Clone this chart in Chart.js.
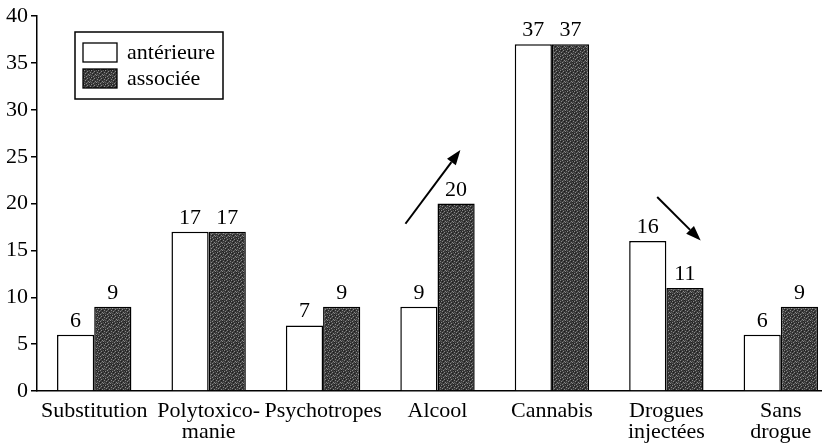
<!DOCTYPE html>
<html><head><meta charset="utf-8">
<script src="https://cdn.jsdelivr.net/npm/chart.js@4/dist/chart.umd.min.js"></script>
<style>html,body{margin:0;padding:0;overflow:hidden;background:#fff;width:822px;height:447px}
canvas{display:block}</style></head>
<body><canvas id="c" width="838" height="447"></canvas>
<script>
// ---- data ----
const categories = ['Substitution', ['Polytoxico-', 'manie'], 'Psychotropes', 'Alcool', 'Cannabis', ['Drogues', 'injectées'], ['Sans', 'drogue']];
const seriesNames = ['antérieure', 'associée'];
const anterieure = [6, 17, 7, 9, 37, 16, 6];
const associee = [9, 17, 9, 20, 37, 11, 9];
const yTickValues = [0, 5, 10, 15, 20, 25, 30, 35, 40];
// arrows in data units: [categoryIndex, value]
const arrowFrom = [[2.72, 17.85], [4.92, 20.7]];
const arrowTo = [[3.20, 25.72], [5.30, 16.06]];

// ---- stipple pattern for dark bars ----
function makePattern() {
  const p = document.createElement('canvas');
  p.width = 7; p.height = 7;
  const g = p.getContext('2d');
  g.fillStyle = '#383838';
  g.fillRect(0, 0, 7, 7);
  g.fillStyle = '#8a8a8a';
  [[0,0],[3,1],[6,2],[1,3],[4,4],[2,6],[5,5]].forEach(([x, y]) => g.fillRect(x, y, 1, 1));
  g.fillStyle = '#5e5e5e';
  [[2,2],[5,0],[0,5],[6,4],[3,5]].forEach(([x, y]) => g.fillRect(x, y, 1, 1));
  g.fillStyle = '#1e1e1e';
  [[1,1],[4,2],[2,4],[5,6],[6,0]].forEach(([x, y]) => g.fillRect(x, y, 1, 1));
  return document.getElementById('c').getContext('2d').createPattern(p, 'repeat');
}
const darkFill = makePattern();

const FAMILY = "'Liberation Serif', 'DejaVu Serif', serif";
const SIZE = 22;
Chart.defaults.font.family = FAMILY;
Chart.defaults.font.size = SIZE;
Chart.defaults.color = '#000';
const FONT = SIZE + "px " + FAMILY;

const valueLabels = {
  id: 'valueLabels',
  afterDatasetsDraw(chart) {
    const ctx = chart.ctx;
    ctx.save();
    ctx.font = FONT;
    ctx.fillStyle = '#000';
    ctx.textAlign = 'center';
    ctx.textBaseline = 'alphabetic';
    chart.data.datasets.forEach((ds, di) => {
      chart.getDatasetMeta(di).data.forEach((el, i) => {
        ctx.fillText(String(ds.data[i]), el.x, el.y - 8);
      });
    });
    ctx.restore();
  }
};

const arrowsPlugin = {
  id: 'arrows',
  afterDraw(chart) {
    const ctx = chart.ctx, xs = chart.scales.x, ys = chart.scales.y;
    const w = xs.getPixelForValue(1) - xs.getPixelForValue(0);
    const px = v => xs.getPixelForValue(0) + v * w;
    ctx.save();
    ctx.strokeStyle = '#000';
    ctx.fillStyle = '#000';
    ctx.lineWidth = 2;
    arrowFrom.forEach((f, k) => {
      const t = arrowTo[k];
      const x1 = px(f[0]), y1 = ys.getPixelForValue(f[1]);
      const x2 = px(t[0]), y2 = ys.getPixelForValue(t[1]);
      const a = Math.atan2(y2 - y1, x2 - x1);
      const L = 15, H = 5.5;
      const bx = x2 - L * Math.cos(a), by = y2 - L * Math.sin(a);
      ctx.beginPath();
      ctx.moveTo(x1, y1); ctx.lineTo(bx, by); ctx.stroke();
      ctx.beginPath();
      ctx.moveTo(x2, y2);
      ctx.lineTo(bx + H * Math.sin(a), by - H * Math.cos(a));
      ctx.lineTo(bx - H * Math.sin(a), by + H * Math.cos(a));
      ctx.closePath(); ctx.fill();
    });
    ctx.restore();
  }
};

const legendBox = {
  id: 'legendBox',
  afterDraw(chart) {
    const ctx = chart.ctx;
    ctx.save();
    ctx.lineWidth = 1.5;
    ctx.strokeStyle = '#000';
    ctx.fillStyle = '#fff';
    ctx.fillRect(75, 32, 148, 67);
    ctx.strokeRect(75, 32, 148, 67);
    ctx.font = FONT;
    ctx.textAlign = 'left';
    ctx.textBaseline = 'middle';
    chart.data.datasets.forEach((ds, i) => {
      const y = i === 0 ? 43 : 69;
      ctx.fillStyle = ds.backgroundColor;
      ctx.fillRect(83, y, 34, 19);
      ctx.lineWidth = 1.3;
      ctx.strokeRect(83, y, 34, 19);
      ctx.fillStyle = '#000';
      ctx.fillText(ds.label, 127, y + 10);
    });
    ctx.restore();
  }
};

new Chart(document.getElementById('c'), {
  type: 'bar',
  data: {
    labels: categories,
    datasets: [
      { label: seriesNames[0], data: anterieure, backgroundColor: '#ffffff', borderColor: '#000', borderWidth: 1.5 },
      { label: seriesNames[1], data: associee, backgroundColor: darkFill, borderColor: '#000', borderWidth: 1.5 }
    ]
  },
  options: {
    responsive: false,
    animation: false,
    devicePixelRatio: 1,
    layout: { padding: { top: 10, left: 0, right: 0, bottom: 0 } },
    plugins: { legend: { display: false }, tooltip: { enabled: false } },
    datasets: { bar: { categoryPercentage: 0.65, barPercentage: 1.0 } },
    scales: {
      x: {
        grid: { display: false, drawTicks: false },
        border: { display: true, color: '#000', width: 1.5 },
        ticks: { padding: 10, maxRotation: 0, autoSkip: false, font: { size: SIZE, lineHeight: 0.95 } },
        afterFit(s) { s.height = 56; }
      },
      y: {
        min: 0, max: 40,
        afterBuildTicks(s) { s.ticks = yTickValues.map(v => ({ value: v })); },
        grid: { drawOnChartArea: false, drawTicks: true, tickLength: 6, color: '#000', lineWidth: 1.5 },
        border: { display: true, color: '#000', width: 1.5 },
        ticks: { padding: 3, font: { size: SIZE } },
        afterFit(s) { s.width = 37; }
      }
    }
  },
  plugins: [valueLabels, arrowsPlugin, legendBox]
});
</script>
</body></html>
